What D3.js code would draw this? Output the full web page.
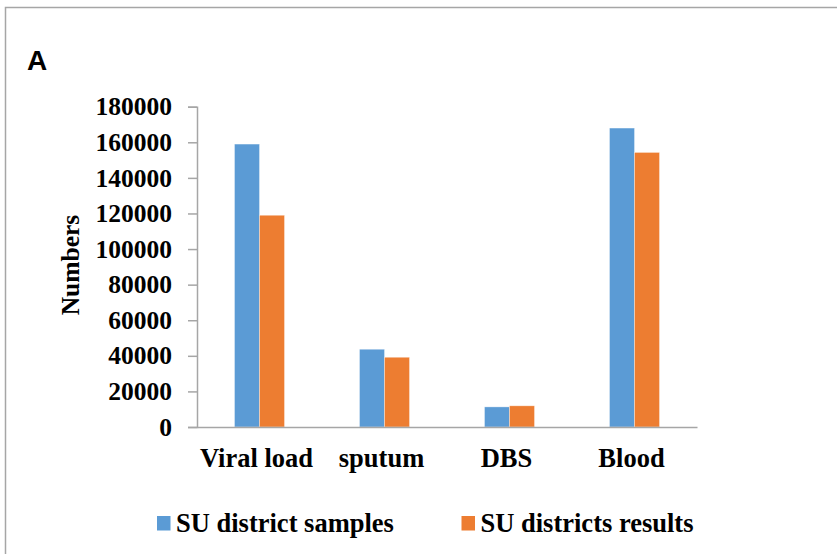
<!DOCTYPE html>
<html>
<head>
<meta charset="utf-8">
<script src="https://cdn.jsdelivr.net/npm/d3@7"></script>
<style>
  body { margin: 0; background: #fff; }
  text { font-family: "Liberation Serif", "Times New Roman", serif; font-weight: bold; fill: #000; }
</style>
</head>
<body>
<div id="chart"></div>
<script>
// data
const categories = ['Viral load', 'sputum', 'DBS', 'Blood'];
const seriesNames = ['SU district samples', 'SU districts results'];
const samples = [159000, 43700, 11300, 168000];
const results = [119000, 39200, 11900, 154300];
const yTicks = [0, 20000, 40000, 60000, 80000, 100000, 120000, 140000, 160000, 180000];
const colors = ['#5B9BD5', '#ED7D31'];

const width = 837, height = 554;
const margin = { top: 106.7, right: 140, bottom: 127, left: 197 };

const svg = d3.select('#chart').append('svg')
  .attr('width', width)
  .attr('height', height);

// outer frame (only top and left edges show)
svg.append('path')
  .attr('d', `M5.5,${height}V7.5H${width}`)
  .attr('fill', 'none')
  .attr('stroke', '#A6A6A6')
  .attr('stroke-width', 1.5);

// panel letter
svg.append('text')
  .attr('x', 27)
  .attr('y', 70)
  .style('font-family', '"Liberation Sans", Arial, sans-serif')
  .style('font-size', '28px')
  .text('A');

const x0 = d3.scaleBand()
  .domain(categories)
  .range([margin.left, width - margin.right])
  .paddingInner(0.6)
  .paddingOuter(0.3);

const x1 = d3.scaleBand()
  .domain(seriesNames)
  .range([0, x0.bandwidth()]);

const y = d3.scaleLinear()
  .domain([0, 180000])
  .range([height - margin.bottom, margin.top]);

const rows = categories.map((c, i) => ({ cat: c, vals: [samples[i], results[i]] }));

// bars
const groups = svg.selectAll('.grp')
  .data(rows)
  .enter().append('g')
  .attr('class', 'grp')
  .attr('transform', d => `translate(${x0(d.cat)},0)`);

groups.selectAll('rect')
  .data(d => d.vals.map((v, j) => ({ name: seriesNames[j], v, j })))
  .enter().append('rect')
  .attr('x', d => x1(d.name))
  .attr('y', d => y(d.v))
  .attr('width', x1.bandwidth())
  .attr('height', d => y(0) - y(d.v))
  .attr('fill', d => colors[d.j])
  .attr('stroke', '#fff')
  .attr('stroke-opacity', 0.5)
  .attr('stroke-width', 0.7);

// y axis
const yAxis = d3.axisLeft(y)
  .tickValues(yTicks)
  .tickFormat(d3.format('d'))
  .tickSize(9)
  .tickPadding(16);

const gy = svg.append('g')
  .attr('transform', `translate(${margin.left},0)`)
  .call(yAxis);
gy.select('.domain').attr('stroke', '#A6A6A6').attr('stroke-width', 1.5);
gy.selectAll('.tick line').attr('stroke', '#A6A6A6').attr('stroke-width', 1.5);
gy.selectAll('.tick text')
  .style('font-size', '25.5px')
  .style('font-family', '"Liberation Serif", "Times New Roman", serif')
  .style('font-weight', 'bold');

// x axis
const xAxis = d3.axisBottom(x0).tickSize(0).tickPadding(21);
const gx = svg.append('g')
  .attr('transform', `translate(0,${y(0)})`)
  .call(xAxis);
gx.select('.domain').attr('stroke', '#A6A6A6').attr('stroke-width', 1.5);
gx.selectAll('.tick text')
  .attr('dx', -3)
  .style('font-size', '26.5px')
  .style('font-family', '"Liberation Serif", "Times New Roman", serif')
  .style('font-weight', 'bold');

// y title
svg.append('text')
  .attr('transform', 'translate(79,265) rotate(-90)')
  .attr('text-anchor', 'middle')
  .style('font-size', '25.5px')
  .text('Numbers');

// legend
const legendX = [157, 461.5];
const legend = svg.selectAll('.leg')
  .data(seriesNames)
  .enter().append('g')
  .attr('class', 'leg')
  .attr('transform', (d, i) => `translate(${legendX[i]},516)`);

legend.append('rect')
  .attr('width', 13.5)
  .attr('height', 14.5)
  .attr('fill', (d, i) => colors[i]);

legend.append('text')
  .attr('x', 19)
  .attr('y', 16)
  .style('font-size', '26.5px')
  .text(d => d);
</script>
</body>
</html>
